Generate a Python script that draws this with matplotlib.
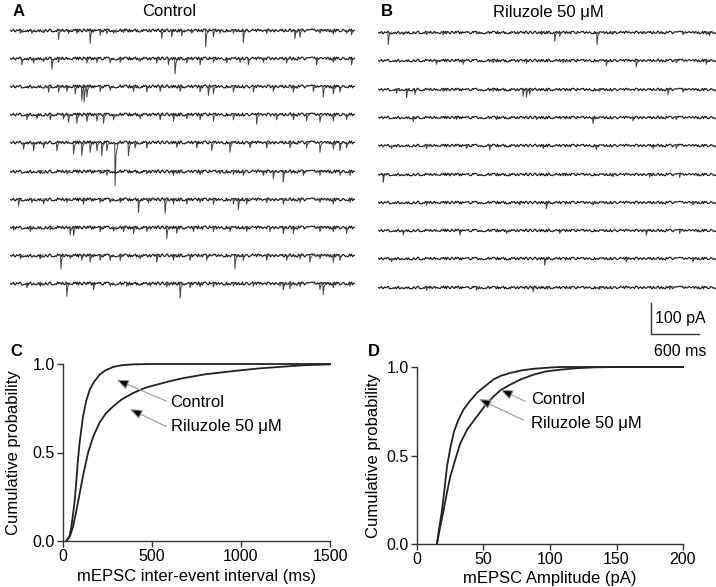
import numpy as np
import matplotlib
matplotlib.use("Agg")
import matplotlib.pyplot as plt

plt.rcParams['font.family'] = ['Liberation Sans', 'DejaVu Sans']

W, H = 716, 587
DPI = 100
TRACE_MS = 4300.0

# ---- Panel A (Control) events: (time ms, amplitude pA) per sweep ----
ctrl_t = [
    [125, 270, 415, 602, 726, 830, 996, 1120, 1204, 1287, 1411, 1888, 2013, 2137, 2262, 2436, 2532, 2615, 2780, 2905, 3196, 3548, 3611, 3860, 4026, 4192, 4254],
    [145, 290, 415, 519, 602, 955, 1079, 1245, 1370, 1619, 1826, 1971, 2054, 2200, 2366, 2532, 2698, 2864, 2967, 3154, 3445, 3818, 4026, 4254],
    [477, 602, 706, 809, 892, 921, 955, 1120, 1245, 1536, 1702, 1868, 2117, 2366, 2469, 2532, 2781, 3030, 3279, 3528, 3777, 3901, 4026, 4109],
    [208, 332, 498, 664, 726, 830, 955, 1079, 1162, 1287, 1619, 1868, 2034, 2200, 2366, 2532, 2781, 3071, 3320, 3528, 3694, 3860, 4026, 4192],
    [166, 290, 415, 581, 789, 892, 996, 1079, 1141, 1204, 1307, 1473, 1556, 1702, 2075, 2324, 2511, 2739, 2988, 3196, 3486, 3694, 3860, 4026, 4109, 4192],
    [373, 706, 1120, 1204, 1702, 2034, 2366, 2615, 2781, 2905, 3154, 3279, 3403, 3652, 3860, 4109, 4233],
    [104, 270, 415, 706, 913, 1120, 1245, 1370, 1598, 1722, 1930, 2034, 2200, 2366, 2532, 2781, 2843, 2947, 3196, 3403, 3611, 3860, 4026, 4233],
    [42, 249, 498, 747, 789, 1120, 1287, 1411, 1536, 1702, 1951, 2075, 2283, 2532, 2739, 2947, 3237, 3403, 3528, 3860, 4026, 4192],
    [125, 374, 631, 747, 892, 996, 1120, 1245, 1370, 1619, 1826, 2034, 2241, 2449, 2801, 2905, 3196, 3445, 3611, 3735, 3860, 4026, 4109],
    [208, 374, 706, 1038, 1245, 1453, 1743, 1951, 2117, 2241, 2366, 2532, 2781, 3030, 3362, 3403, 3486, 3611, 3860, 3901, 4026, 4233],
]
ctrl_a = [
    [11, 11, 9, 30, 11, 11, 43, 16, 13, 11, 9, 27, 22, 19, 11, 54, 22, 11, 11, 41, 11, 27, 24, 11, 13, 11, 16],
    [22, 16, 11, 36, 14, 16, 14, 14, 14, 11, 16, 22, 51, 16, 22, 14, 16, 14, 22, 14, 16, 22, 14, 22],
    [19, 19, 17, 25, 46, 52, 35, 17, 14, 17, 19, 17, 17, 19, 30, 25, 19, 19, 17, 19, 17, 35, 25, 19],
    [18, 15, 18, 15, 26, 29, 24, 22, 29, 18, 15, 18, 22, 15, 18, 22, 18, 32, 18, 18, 22, 26, 22, 18],
    [22, 27, 18, 27, 38, 43, 32, 27, 43, 27, 140, 43, 18, 18, 16, 18, 27, 32, 18, 18, 18, 18, 32, 22, 27, 18],
    [11, 11, 11, 16, 11, 16, 14, 11, 14, 16, 16, 27, 38, 16, 16, 16, 16],
    [24, 13, 18, 13, 18, 13, 13, 13, 45, 13, 48, 18, 18, 13, 18, 18, 35, 18, 13, 18, 13, 13, 18, 13],
    [11, 16, 11, 27, 29, 16, 14, 16, 22, 16, 38, 22, 16, 16, 16, 16, 16, 22, 22, 16, 16, 22],
    [13, 13, 45, 13, 18, 24, 18, 18, 18, 13, 24, 18, 18, 18, 45, 18, 18, 18, 13, 24, 13, 24, 18],
    [16, 11, 43, 22, 11, 11, 11, 13, 49, 16, 13, 13, 11, 11, 11, 22, 19, 13, 22, 38, 16, 11],
]

# ---- Panel B (Riluzole 50 uM) events ----
ril_t = [
    [125, 311, 602, 809, 1224, 2034, 2200, 2262, 2727, 2926, 3299, 3797, 4088, 4129],
    [726, 1058, 1432, 1847, 2303, 2843, 3216, 3714, 4088],
    [228, 353, 457, 809, 1432, 1805, 1847, 1888, 2760, 3611, 3797],
    [436, 975, 1473, 1971, 2677, 3175, 3714],
    [166, 602, 1100, 1390, 2054, 2718, 3424, 3714],
    [62, 892, 1639, 2303, 2926, 3382, 3756],
    [602, 1764, 2096, 2677, 3922],
    [311, 1017, 1598, 2262, 3341, 3756],
    [166, 2075, 3092, 3922],
    [602, 1224, 1930, 2760, 3631],
]
ril_a = [
    [41, 9, 9, 9, 6, 9, 30, 14, 41, 6, 6, 9, 9, 12],
    [13, 13, 8, 10, 8, 18, 21, 8, 13],
    [14, 30, 19, 9, 9, 25, 27, 19, 9, 19, 12],
    [16, 9, 9, 9, 22, 13, 9],
    [11, 11, 11, 16, 11, 14, 11, 11],
    [29, 8, 8, 8, 11, 11, 13],
    [11, 11, 22, 11, 11],
    [16, 16, 11, 11, 16, 11],
    [11, 22, 11, 11],
    [11, 11, 16, 9, 9],
]

# ---- Cumulative distributions ----
iei_ctrl_x = [19, 35, 47, 56, 66, 75, 84, 95, 112, 130, 150, 175, 206, 240, 281, 330, 394, 500, 1500]
iei_ctrl_y = [0, 0.02, 0.08, 0.15, 0.23, 0.34, 0.46, 0.57, 0.70, 0.79, 0.855, 0.90, 0.94, 0.965, 0.983, 0.993, 0.998, 1.0, 1.0]
iei_ril_x = [19, 40, 56, 75, 94, 115, 141, 170, 206, 240, 281, 330, 394, 460, 525, 600, 675, 800, 956, 1100, 1237, 1350, 1500]
iei_ril_y = [0, 0.03, 0.08, 0.17, 0.27, 0.38, 0.50, 0.59, 0.67, 0.72, 0.76, 0.80, 0.836, 0.865, 0.883, 0.903, 0.92, 0.942, 0.96, 0.975, 0.985, 0.993, 0.998]

amp_ctrl_x = [15, 16.5, 18.8, 20.5, 22.6, 25, 27.6, 31, 35, 40, 45, 50, 57.6, 63, 70, 78, 87.7, 100, 108, 200]
amp_ctrl_y = [0, 0.08, 0.19, 0.30, 0.44, 0.54, 0.63, 0.70, 0.76, 0.81, 0.853, 0.885, 0.93, 0.95, 0.966, 0.98, 0.99, 0.997, 1.0, 1.0]
amp_ril_x = [15, 17, 20, 22.5, 25, 28.5, 32.6, 38, 45, 51, 57.6, 63, 70, 78, 87.7, 97, 108, 120, 133, 150, 200]
amp_ril_y = [0, 0.08, 0.19, 0.29, 0.38, 0.47, 0.57, 0.65, 0.72, 0.78, 0.834, 0.87, 0.90, 0.93, 0.957, 0.975, 0.985, 0.993, 0.998, 1.0, 1.0]

iei_ticks = [0, 500, 1000, 1500]
amp_ticks = [0, 50, 100, 150, 200]
prob_ticks = [0.0, 0.5, 1.0]

fig = plt.figure(figsize=(W / DPI, H / DPI), dpi=DPI)


def px_axes(left, top, width, height):
    return fig.add_axes([left / W, 1 - (top + height) / H, width / W, height / H])


PA_PER_PX = 100.0 / 31.0


def events_path(times, amps, base):
    xs, ys = [], []
    for t, a in zip(times, amps):
        xs += [t - 2, t + 3, t + 14, t + 40, np.nan]
        ys += [base, base - a, base - 0.3 * a, base, np.nan]
    return xs, ys


def trace_panel(ax, T, A, spacing_px, scale):
    for i, (tt, aa) in enumerate(zip(T, A)):
        base = -i * spacing_px * PA_PER_PX
        ln, = ax.plot([0, TRACE_MS], [base, base], color='#1a1a1a', lw=0.85)
        ln.set_sketch_params(scale=scale, length=0.5, randomness=5)
        ex, ey = events_path(tt, aa, base)
        ax.plot(ex, ey, color='#444444', lw=0.7)
    ax.set_xlim(0, TRACE_MS)
    ax.axis('off')


# Panel A
axA = px_axes(10, 20, 345, 280)
axA.set_ylim(-(300 - 30) * PA_PER_PX, (30 - 20) * PA_PER_PX)
trace_panel(axA, ctrl_t, ctrl_a, 28.1, 1.4)

# Panel B
axB = px_axes(378, 20, 345, 280)
axB.set_ylim(-(300 - 32) * PA_PER_PX, (32 - 20) * PA_PER_PX)
trace_panel(axB, ril_t, ril_a, 28.3, 1.2)

# scale bar in B coordinates
sb_x0 = (651 - 378) * 12.46
sb_y0 = -(334 - 32) * PA_PER_PX
axB.plot([sb_x0, sb_x0, sb_x0 + 600], [sb_y0 + 100, sb_y0, sb_y0], color='#333333', lw=1.0, clip_on=False)
axB.text(sb_x0 + 55, sb_y0 + 50, '100 pA', fontsize=11.5, va='center', ha='left', clip_on=False)
axB.text(sb_x0 + 370, sb_y0 - 58, '600 ms', fontsize=11.5, va='center', ha='center', clip_on=False)

fig.text(13 / W, 1 - 12 / H, 'A', fontsize=12, fontweight='bold', va='center', ha='left')
fig.text(169 / W, 1 - 12 / H, 'Control', fontsize=12, va='center', ha='center')
fig.text(381 / W, 1 - 12 / H, 'B', fontsize=12, fontweight='bold', va='center', ha='left')
fig.text(548 / W, 1 - 12 / H, 'Riluzole 50 \u03bcM', fontsize=12, va='center', ha='center')
fig.text(10 / W, 1 - 352 / H, 'C', fontsize=12, fontweight='bold', va='center', ha='left')
fig.text(368 / W, 1 - 352 / H, 'D', fontsize=12, fontweight='bold', va='center', ha='left')


def cum_axes(ax, xlim, xticks, xlabel, ypad):
    for s in ['top', 'right']:
        ax.spines[s].set_visible(False)
    for s in ['left', 'bottom']:
        ax.spines[s].set_linewidth(1.0)
        ax.spines[s].set_color('#333333')
    ax.set_xlim(*xlim)
    ax.set_ylim(0, 1.0)
    ax.set_xticks(xticks)
    ax.set_yticks(prob_ticks)
    ax.set_yticklabels(['%.1f' % v for v in prob_ticks])
    ax.tick_params(direction='out', length=4, width=1.0, labelsize=11.5, pad=2, color='#333333')
    ax.set_xlabel(xlabel, fontsize=12, labelpad=3)
    ax.set_ylabel('Cumulative probability', fontsize=12, labelpad=ypad)


def arrow(ax, tip, tail):
    ax.annotate('', xy=tip, xytext=tail,
                arrowprops=dict(arrowstyle='-|>,head_length=0.75,head_width=0.3',
                                fc='black', ec='#999999', lw=0.8, shrinkA=0, shrinkB=0))


axC = px_axes(63, 364, 267, 177)
axC.plot(iei_ctrl_x, iei_ctrl_y, color='#222222', lw=1.3, clip_on=False)
axC.plot(iei_ril_x, iei_ril_y, color='#222222', lw=1.3, clip_on=False)
cum_axes(axC, (0, 1500), iei_ticks, 'mEPSC inter-event interval (ms)', 8.5)
arrow(axC, (300, 0.911), (581, 0.79))
arrow(axC, (375, 0.745), (581, 0.647))
axC.text(604, 0.78, 'Control', fontsize=12, va='center', ha='left')
axC.text(604, 0.647, 'Riluzole 50 \u03bcM', fontsize=12, va='center', ha='left')

axD = px_axes(417, 367, 266, 177)
axD.plot(amp_ctrl_x, amp_ctrl_y, color='#222222', lw=1.3, clip_on=False)
axD.plot(amp_ril_x, amp_ril_y, color='#222222', lw=1.3, clip_on=False)
cum_axes(axD, (0, 200), amp_ticks, 'mEPSC Amplitude (pA)', 4)
arrow(axD, (62.7, 0.872), (81.4, 0.806))
arrow(axD, (46.4, 0.819), (80.2, 0.70))
axD.text(85.7, 0.819, 'Control', fontsize=12, va='center', ha='left')
axD.text(85.7, 0.683, 'Riluzole 50 \u03bcM', fontsize=12, va='center', ha='left')

fig.savefig('out.png', dpi=DPI)
